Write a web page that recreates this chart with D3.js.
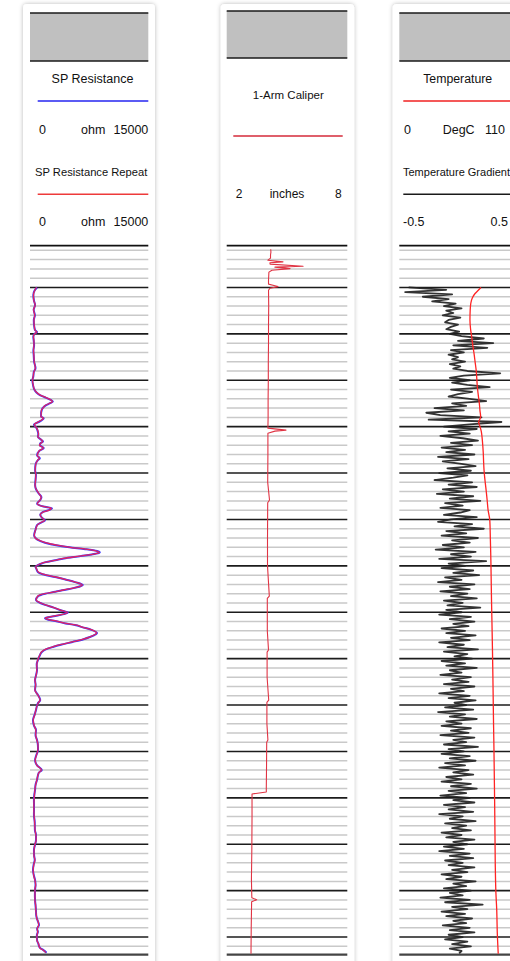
<!DOCTYPE html>
<html>
<head>
<meta charset="utf-8">
<script src="https://cdn.jsdelivr.net/npm/d3@7"></script>
<style>
  html, body { margin: 0; padding: 0; background: #ffffff; overflow: hidden; }
  svg { display: block; }
  text { font-family: "Liberation Sans", Arial, sans-serif; fill: #111; }
</style>
</head>
<body>
<svg id="log" width="510" height="961"></svg>
<script>
// ---- depth frame ----
const depthTop = 5;
const depthBottom = 769;
const minorStep = 10;
const majorStep = 50;

// ---- header legend text ----
const curveNames = ["SP Resistance", "SP Resistance Repeat", "1-Arm Caliper", "Temperature", "Temperature Gradient"];
const curveUnits = ["ohm", "ohm", "inches", "DegC", ""];
const scaleMin = [0, 0, 2, 0, -0.5];
const scaleMax = [15000, 15000, 8, 110, 0.5];
const scaleMinLabels = ["0", "0", "2", "0", "-0.5"];
const scaleMaxLabels = ["15000", "15000", "8", "110", "0.5"];

// ---- SP resistance (ohm) and its repeat pass ----
const spDepth = [
  50, 53, 58, 64, 69, 74, 80, 85, 91, 96,
  98, 100, 103, 108, 112, 118, 123, 130, 137, 141,
  146, 150, 155, 160, 163, 166, 168, 170, 173, 175,
  177, 180, 182, 186, 189, 191, 194, 198, 201, 204,
  208, 211, 214, 216, 218, 220, 223, 226, 231, 234,
  236, 241, 247, 252, 257, 263, 268, 272, 276, 279,
  283, 286, 288, 290, 292, 295, 298, 301, 303, 306,
  311, 317, 320, 322, 325, 328, 330, 332, 334, 335.5,
  337, 339.5, 342, 344, 346, 348, 351, 353, 356.7, 359,
  362, 365, 367.5, 370.7, 372, 374, 376, 378, 380, 382.5,
  386.8, 390, 392, 395, 397.6, 400.5, 402, 404, 406.2, 408,
  409.4, 412, 413.7, 416, 419, 422.4, 424, 426.7, 429, 432,
  435, 437.4, 440, 442.8, 446.1, 451.5, 456, 462.3, 468, 473,
  478, 483.8, 489, 494.6, 498, 505.4, 510, 516.1, 522, 527,
  532.3, 538, 543, 548.4, 554, 559.2, 565, 569.9, 573, 580.7,
  586, 591.5, 597, 602.3, 610, 618.4, 626, 634.6, 640, 645.4,
  651, 656.1, 662, 666.9, 672, 677.7, 684, 688.4, 694, 699.2,
  705, 710, 716, 722, 726.1, 730, 733, 736.9, 741, 744.4,
  748, 753.1, 757, 761.7, 764, 766.8
];
const spOhm = [
  900, 600, 420, 500, 640, 470, 620, 480, 520, 640,
  900, 560, 420, 480, 520, 430, 470, 520, 700, 480,
  420, 300, 380, 550, 800, 1250, 1800, 2350, 2900, 2500,
  2000, 1600, 1500, 1400, 1400, 1750, 1300, 500, 800, 950,
  1050, 1000, 1400, 1650, 1300, 1250, 1750, 1200, 900, 1250,
  1000, 700, 650, 750, 700, 650, 800, 1100, 1450, 1300,
  900, 1700, 2790, 2400, 1600, 1300, 1500, 1900, 1500, 900,
  700, 520, 700, 1000, 1900, 3500, 5000, 7000, 8500, 8850,
  8300, 6400, 4300, 3200, 2000, 1300, 700, 800, 1000, 1600,
  3200, 4600, 5700, 6700, 6400, 5500, 4300, 3200, 1900, 1050,
  760, 1300, 1900, 3000, 3800, 4800, 4300, 3200, 1900, 2300,
  3200, 4500, 5700, 6600, 7800, 8500, 8300, 7600, 6800, 5400,
  3900, 2900, 2000, 1500, 1270, 1000, 850, 890, 760, 640,
  700, 640, 1000, 1300, 1000, 760, 600, 380, 500, 760,
  700, 900, 1000, 1020, 800, 640, 900, 1500, 1100, 890,
  700, 640, 540, 500, 510, 500, 600, 620, 760, 760,
  620, 500, 520, 600, 460, 380, 500, 640, 700, 640,
  620, 640, 700, 760, 780, 880, 1000, 1140, 900, 1000,
  870, 890, 1050, 1270, 1700, 2100
];
const spRepeatOhm = [
  820, 620, 440, 480, 660, 450, 600, 500, 540, 620,
  860, 580, 440, 500, 500, 450, 490, 540, 680, 500,
  400, 320, 400, 560, 820, 1300, 1850, 2400, 2850, 2450,
  1950, 1650, 1450, 1420, 1380, 1700, 1250, 540, 820, 980,
  1080, 980, 1420, 1600, 1350, 1200, 1700, 1150, 920, 1200,
  980, 720, 660, 730, 720, 640, 820, 1120, 1420, 1280,
  920, 1650, 2700, 2450, 1650, 1280, 1520, 1850, 1450, 920,
  720, 540, 680, 1050, 1950, 3600, 5100, 7050, 8450, 8800,
  8250, 6300, 4250, 3150, 1950, 1250, 720, 820, 1050, 1650,
  3250, 4650, 5750, 6650, 6350, 5450, 4250, 3150, 1850, 1000,
  780, 1350, 1950, 3050, 3850, 4750, 4250, 3150, 1950, 2350,
  3250, 4550, 5750, 6650, 7850, 8450, 8250, 7550, 6750, 5350,
  3850, 2850, 1950, 1450, 1250, 980, 870, 870, 780, 620,
  720, 620, 980, 1280, 1020, 740, 620, 400, 520, 740,
  720, 880, 1020, 1000, 820, 660, 880, 1450, 1120, 870,
  720, 620, 560, 520, 490, 520, 580, 640, 740, 780,
  600, 520, 500, 620, 480, 400, 480, 620, 720, 620,
  640, 620, 720, 740, 800, 860, 1020, 1100, 920, 980,
  890, 870, 1070, 1250, 1650, 2000
];

// ---- 1-arm caliper (inches) ----
const calDepth = [
  8.8, 12, 15, 18.4, 20.6, 22.4, 23.3, 24.9, 27.1, 28.1,
  29.7, 31.4, 33.5, 38, 42, 46.4, 48.1, 49.1, 50.8, 53,
  70, 90, 110, 130, 150, 170, 190, 201.6, 203.7, 204.8,
  207, 230, 260, 279, 282, 320, 350, 382.5, 385, 420,
  440.7, 443, 470, 494.6, 497, 520, 537.7, 540, 570, 590,
  593.6, 595.8, 620, 656, 688, 707.6, 709.8, 712, 740, 763.7,
  768
];
const calInch = [
  4.19, 4.20, 4.18, 4.18, 4.05, 4.80, 4.15, 4.16, 5.80, 4.40,
  5.15, 4.25, 4.10, 4.09, 4.08, 4.08, 4.40, 4.55, 4.15, 4.08,
  4.09, 4.08, 4.08, 4.07, 4.07, 4.06, 4.06, 4.05, 4.95, 4.40,
  4.05, 4.05, 4.04, 4.13, 4.04, 4.03, 4.03, 4.12, 4.02, 4.02,
  4.08, 4.01, 4.01, 4.09, 4.00, 4.00, 4.05, 3.99, 3.98, 3.97,
  3.97, 3.26, 3.26, 3.25, 3.23, 3.25, 3.49, 3.24, 3.22, 3.21,
  3.21
];

// ---- temperature (DegC) ----
const tempDepth = [
  50, 53, 56.5, 61, 67, 75, 85, 95, 103, 112,
  121, 130, 139, 148, 157, 166, 175, 183, 189, 192,
  195, 198, 200, 205, 211, 220, 229, 238, 247, 260,
  270, 279, 290, 301, 320, 344, 365, 387, 410, 441,
  470, 495, 520, 548, 575, 602, 635, 670, 702, 721,
  745, 768
];
const tempDegC = [
  76.5, 74, 71, 68.5, 67, 66.4, 66.2, 66.8, 67.8, 68.8,
  70, 71, 72, 72.6, 73.1, 74, 75, 75.6, 76.2, 75.5,
  74.3, 75, 75.6, 76.8, 77.5, 78.2, 78.7, 79, 79.4, 80.5,
  81.5, 82.3, 83.2, 84.8, 85.3, 85.8, 86.1, 86.4, 86.8, 87.3,
  87.7, 88, 88.3, 88.7, 89.0, 89.3, 89.6, 89.9, 90.5, 91.3,
  91.8, 92.7
];

// ---- temperature gradient, sampled every 2.5 from depth 50 ----
const gradTop = 50;
const gradStep = 2.5;
const gradValues = [
  -0.42, -0.10, -0.45, -0.05, -0.30, -0.08, -0.22, -0.02, -0.12, 0.03,
  -0.10, -0.04, -0.13, 0.02, -0.08, -0.11, 0.00, -0.06, -0.10, 0.01,
  -0.07, 0.03, 0.22, 0.00, 0.30, -0.04, 0.25, -0.06, 0.05, -0.08,
  0.00, -0.05, 0.06, -0.07, 0.02, -0.04, 0.08, 0.36, 0.05, -0.07,
  0.10, -0.05, 0.08, 0.27, -0.06, 0.12, 0.00, -0.08, 0.10, 0.24,
  -0.05, 0.07, -0.20, 0.05, -0.27, -0.15, 0.20, -0.25, 0.37, 0.10,
  -0.12, 0.16, -0.08, 0.10, -0.15, 0.04, 0.17, -0.06, 0.12, -0.14,
  0.06, -0.10, 0.14, -0.17, 0.09, -0.13, 0.03, 0.15, -0.09, 0.11,
  -0.16, 0.08, -0.04, -0.20, 0.12, -0.08, 0.16, -0.13, 0.05, -0.18,
  0.13, -0.07, 0.19, -0.11, 0.04, -0.15, 0.10, 0.02, -0.12, 0.16,
  -0.06, -0.17, 0.12, -0.03, 0.22, -0.10, 0.07, -0.14, 0.17, -0.05,
  0.10, -0.13, 0.05, -0.19, 0.15, -0.06, 0.11, -0.16, 0.24, -0.08,
  0.06, -0.14, 0.13, -0.04, 0.18, -0.11, 0.03, -0.17, 0.14, -0.07,
  0.10, -0.15, 0.08, -0.06, 0.16, -0.12, 0.04, -0.09, 0.19, -0.10,
  0.03, -0.16, 0.11, -0.07, 0.14, -0.04, 0.09, -0.14, 0.06, -0.10,
  0.15, -0.06, 0.10, -0.16, 0.05, -0.09, 0.17, -0.12, 0.08, -0.03,
  0.12, -0.14, 0.06, -0.10, 0.16, -0.07, 0.03, -0.15, 0.11, -0.05,
  0.09, -0.12, 0.14, -0.06, 0.05, -0.16, 0.10, -0.08, 0.15, -0.03,
  0.07, -0.11, 0.13, -0.17, 0.06, -0.07, 0.16, -0.10, 0.03, -0.14,
  0.11, -0.06, 0.09, -0.15, 0.14, -0.04, 0.07, -0.12, 0.17, -0.08,
  0.05, -0.14, 0.10, -0.07, 0.15, -0.11, 0.06, -0.16, 0.09, -0.04,
  0.13, -0.10, 0.03, -0.14, 0.11, -0.06, 0.16, -0.08, 0.07, -0.15,
  0.10, -0.04, 0.14, -0.12, 0.06, -0.08, 0.13, -0.16, 0.04, -0.07,
  0.15, -0.11, 0.07, -0.05, 0.11, -0.14, 0.03, -0.10, 0.14, -0.04,
  0.08, -0.12, 0.05, -0.16, 0.10, -0.07, 0.13, -0.11, 0.04, -0.08,
  0.14, -0.05, 0.08, -0.14, 0.03, -0.10, 0.15, -0.04, 0.07, -0.12,
  0.11, -0.07, 0.04, -0.15, 0.10, -0.11, 0.21, -0.05, 0.08, -0.14,
  0.06, -0.10, 0.12, -0.04, 0.07, -0.13, 0.10, -0.07, 0.14, -0.08,
  0.04, -0.11, 0.08, -0.05, 0.11, -0.07, 0.03, 0.01
];

// ---- layout ----
const svg = d3.select("#log");
const gridTopY = 245.7, gridBottomY = 954.7;
const y = d3.scaleLinear().domain([depthTop, depthBottom]).range([gridTopY, gridBottomY]);

const panels = [
  { cardX: 23, cardW: 132, x0: 30, x1: 148.3, headTop: 13, headBottom: 61 },
  { cardX: 220.7, cardW: 133.5, x0: 226.7, x1: 347.3, headTop: 11, headBottom: 58 },
  { cardX: 392.7, cardW: 140, x0: 399.3, x1: 516.7, headTop: 13, headBottom: 61 }
];

const defs = svg.append("defs");
const shadow = defs.append("filter").attr("id", "cardShadow")
  .attr("x", "-20%").attr("y", "-5%").attr("width", "140%").attr("height", "110%");
shadow.append("feDropShadow").attr("dx", 0).attr("dy", 0)
  .attr("stdDeviation", 2.2).attr("flood-color", "#000").attr("flood-opacity", 0.28);

panels.forEach((p, i) => {
  defs.append("clipPath").attr("id", "plot" + i)
    .append("rect").attr("x", p.x0).attr("y", gridTopY)
    .attr("width", p.x1 - p.x0).attr("height", gridBottomY - gridTopY);
  defs.append("clipPath").attr("id", "head" + i)
    .append("rect").attr("x", p.x0).attr("y", 0)
    .attr("width", p.x1 - p.x0 + 1).attr("height", gridTopY);
});

const minorDepths = d3.range(Math.ceil(depthTop / minorStep) * minorStep, depthBottom, minorStep)
  .filter(d => d % majorStep !== 0);
const majorDepths = d3.range(Math.ceil(depthTop / majorStep) * majorStep, depthBottom, majorStep);

panels.forEach((p, i) => {
  const g = svg.append("g");
  // card
  g.append("rect").attr("x", p.cardX).attr("y", 4).attr("width", p.cardW).attr("height", 1000)
    .attr("rx", 4).attr("fill", "#fff").attr("filter", "url(#cardShadow)");
  // grey header block
  g.append("rect").attr("x", p.x0).attr("y", p.headTop).attr("width", p.x1 - p.x0)
    .attr("height", p.headBottom - p.headTop).attr("fill", "#c0c0c0");
  [p.headTop, p.headBottom].forEach(v => {
    g.append("line").attr("x1", p.x0).attr("x2", p.x1).attr("y1", v).attr("y2", v)
      .attr("stroke", "#1a1a1a").attr("stroke-width", 1.6);
  });
  // depth grid
  g.selectAll("line.minor").data(minorDepths).join("line").attr("class", "minor")
    .attr("x1", p.x0).attr("x2", p.x1).attr("y1", d => y(d)).attr("y2", d => y(d))
    .attr("stroke", "#c9c9c9").attr("stroke-width", 1.5);
  g.selectAll("line.major").data(majorDepths).join("line").attr("class", "major")
    .attr("x1", p.x0).attr("x2", p.x1).attr("y1", d => y(d)).attr("y2", d => y(d))
    .attr("stroke", "#1c1c1c").attr("stroke-width", 1.6);
  g.append("line").attr("x1", p.x0).attr("x2", p.x1).attr("y1", gridTopY).attr("y2", gridTopY)
    .attr("stroke", "#111").attr("stroke-width", 1.8);
  g.append("line").attr("x1", p.x0).attr("x2", p.x1).attr("y1", gridBottomY).attr("y2", gridBottomY)
    .attr("stroke", "#444").attr("stroke-width", 2.2);
  p.g = g;
});

// ---- header legends ----
function label(g, txt, x, yy, size, anchor, clip) {
  const t = g.append("text").attr("x", x).attr("y", yy).attr("font-size", size)
    .attr("text-anchor", anchor || "start").text(txt);
  if (clip) t.attr("clip-path", clip);
  return t;
}
function swatch(g, x1, x2, yy, color) {
  g.append("line").attr("x1", x1).attr("x2", x2).attr("y1", yy).attr("y2", yy)
    .attr("stroke", color).attr("stroke-width", 1.5);
}

// track 1
{
  const g = panels[0].g;
  label(g, curveNames[0], 92.5, 83, 12.5, "middle");
  swatch(g, 37.7, 148.3, 101, "#2424f0");
  label(g, scaleMinLabels[0], 39, 134, 12.5);
  label(g, curveUnits[0], 81, 134, 12.5);
  label(g, scaleMaxLabels[0], 148.3, 134, 12.5, "end");
  label(g, curveNames[1], 35, 176, 11.2, "start", "url(#head0)");
  swatch(g, 37.7, 148.3, 194.3, "#ee3a3a");
  label(g, scaleMinLabels[1], 39, 225.5, 12.5);
  label(g, curveUnits[1], 81, 225.5, 12.5);
  label(g, scaleMaxLabels[1], 148.3, 225.5, 12.5, "end");
}
// track 2
{
  const g = panels[1].g;
  label(g, curveNames[2], 288.3, 99, 11.5, "middle");
  swatch(g, 233.3, 342.7, 136, "#d42a3a");
  label(g, scaleMinLabels[2], 235.7, 198, 12);
  label(g, curveUnits[2], 287, 198, 12, "middle");
  label(g, scaleMaxLabels[2], 341.7, 198, 12, "end");
}
// track 3
{
  const g = panels[2].g;
  label(g, curveNames[3], 457.7, 83, 12.3, "middle");
  swatch(g, 403.3, 514, 101, "#f02020");
  label(g, scaleMinLabels[3], 404, 134, 12.5);
  label(g, curveUnits[3], 442.7, 134, 12.5);
  label(g, scaleMaxLabels[3], 485, 134, 12.5, "start");
  label(g, curveNames[4], 403, 176, 11, "start");
  swatch(g, 403.3, 514, 194.3, "#1a1a1a");
  label(g, scaleMinLabels[4], 403, 226, 12.5);
  label(g, scaleMaxLabels[4], 508, 226, 12.5, "end");
}

// ---- curves ----
function trace(i, depths, values, xScale, color, width, curve, opacity) {
  const pts = depths.map((d, k) => [xScale(values[k]), y(d)]);
  const line = d3.line().curve(curve || d3.curveLinear);
  panels[i].g.append("path").attr("d", line(pts)).attr("fill", "none")
    .attr("stroke", color).attr("stroke-width", width).attr("stroke-linejoin", "round")
    .attr("stroke-opacity", opacity == null ? 1 : opacity)
    .attr("clip-path", "url(#plot" + i + ")");
}

const xSP = d3.scaleLinear().domain([scaleMin[0], scaleMax[0]]).range([panels[0].x0, panels[0].x1]);
const xCal = d3.scaleLinear().domain([scaleMin[2], scaleMax[2]]).range([panels[1].x0, panels[1].x1]);
const xTemp = d3.scaleLinear().domain([scaleMin[3], scaleMax[3]]).range([panels[2].x0, panels[2].x1]);
const xGrad = d3.scaleLinear().domain([scaleMin[4], scaleMax[4]]).range([panels[2].x0, panels[2].x1]);

trace(0, spDepth, spOhm, xSP, "#3a3aff", 2.0, d3.curveMonotoneY);
trace(0, spDepth, spRepeatOhm, xSP, "#e8225a", 1.3, d3.curveMonotoneY, 0.95);
trace(1, calDepth, calInch, xCal, "#e03444", 1.1);
const gradDepth = gradValues.map((v, k) => gradTop + k * gradStep);
trace(2, gradDepth, gradValues, xGrad, "#222", 1.8, d3.curveLinear, 0.92);
trace(2, tempDepth, tempDegC, xTemp, "#ff2424", 1.3, d3.curveMonotoneY);
</script>
</body>
</html>
